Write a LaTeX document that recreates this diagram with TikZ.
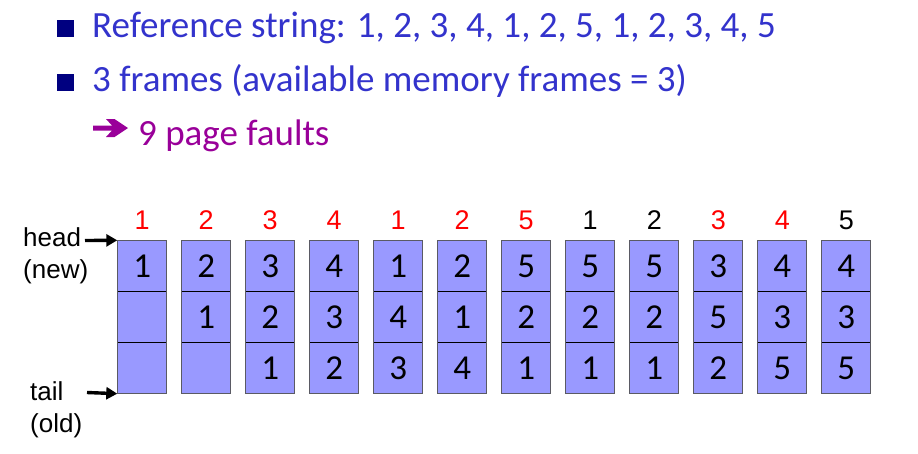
\documentclass[tikz,border=0pt]{standalone}
\usepackage{fontspec}
\setmainfont{Carlito}
\newfontfamily\arialfont{Liberation Sans}
\usetikzlibrary{arrows.meta}
\definecolor{textblue}{RGB}{51,51,204}
\definecolor{faultpurple}{RGB}{153,0,153}
\definecolor{bulletnavy}{RGB}{0,0,128}
\definecolor{cellfill}{RGB}{153,153,255}
\definecolor{cellborder}{RGB}{90,90,100}
\definecolor{hitred}{RGB}{255,0,0}
\tikzset{
  bullettext/.style={anchor=base west, inner sep=0pt, text=textblue, font=\fontsize{37}{44}\selectfont},
  bulletmark/.style={fill=bulletnavy, draw=none, minimum size=17pt, inner sep=0pt, anchor=south west},
  cell/.style={fill=cellfill, draw=none, minimum width=48.5pt, minimum height=51pt, inner sep=0pt,
               font=\fontsize{35}{35}\selectfont},
  reflabel/.style={anchor=base, inner sep=0pt, font=\arialfont\fontsize{27}{27}\selectfont},
  sidelabel/.style={anchor=base west, inner sep=0pt, font=\arialfont\fontsize{26}{26}\selectfont},
  pointer/.style={-{Triangle[length=11pt,width=12pt]}, line width=3.4pt, shorten >=0.5pt},
}
\begin{document}
\begin{tikzpicture}[x=1pt,y=-1pt]
\useasboundingbox (0,0) rectangle (918,453);

% bullet list
\node[bulletmark] (b1) at (57,37) {};
\node[bullettext] (t1) at (92,37) {Reference string: 1, 2, 3, 4, 1, 2, 5, 1, 2, 3, 4, 5};
\node[bulletmark] (b2) at (57,91) {};
\node[bullettext] (t2) at (92,91) {3 frames (available memory frames = 3)};
% thick notched arrow in front of the result line
\fill[faultpurple] (93,125.5) -- (112,125.5) -- (106,119) -- (114.5,119) -- (128,128)
  -- (114.5,137) -- (106,137) -- (112,130.5) -- (93,130.5) -- cycle;
\node[bullettext, text=faultpurple] (t3) at (138,145) {9 page faults};

% frame columns: label / colour / top / middle / bottom
\foreach \lab/\col/\a/\b/\c [count=\i from 0] in
  {1/hitred/1/{}/{}, 2/hitred/2/1/{}, 3/hitred/3/2/1, 4/hitred/4/3/2,
   1/hitred/1/4/3, 2/hitred/2/1/4, 5/hitred/5/2/1, 1/black/5/2/1,
   2/black/5/2/1, 3/hitred/3/5/2, 4/hitred/4/3/5, 5/black/4/3/5}
{
  \pgfmathsetmacro{\cx}{142.25+64*\i}
  \node[reflabel, text=\col] (lab-\i) at (\cx,229) {\lab};
  \node[cell] (cell-\i-1) at (\cx,266) {\a};
  \node[cell] (cell-\i-2) at (\cx,317) {\b};
  \node[cell] (cell-\i-3) at (\cx,368) {\c};
  \draw[black, line width=0.9pt] (cell-\i-1.south west) -- (cell-\i-1.south east);
  \draw[black, line width=0.9pt] (cell-\i-2.south west) -- (cell-\i-2.south east);
  \draw[cellborder, line width=0.9pt] (cell-\i-1.north west) rectangle (cell-\i-3.south east);
}

% head / tail pointers
\node[sidelabel] (head) at (23,246) {head};
\node[sidelabel] (new) at (23,278) {(new)};
\node[sidelabel] (tail) at (30,400) {tail};
\node[sidelabel] (old) at (30,432) {(old)};
\coordinate (headstart) at (85,240.5);
\coordinate (tailstart) at (87,392.5);
\draw[pointer] (headstart) -- (cell-0-1.north west);
\draw[pointer] (tailstart) -- (cell-0-3.south west);
\end{tikzpicture}
\end{document}
